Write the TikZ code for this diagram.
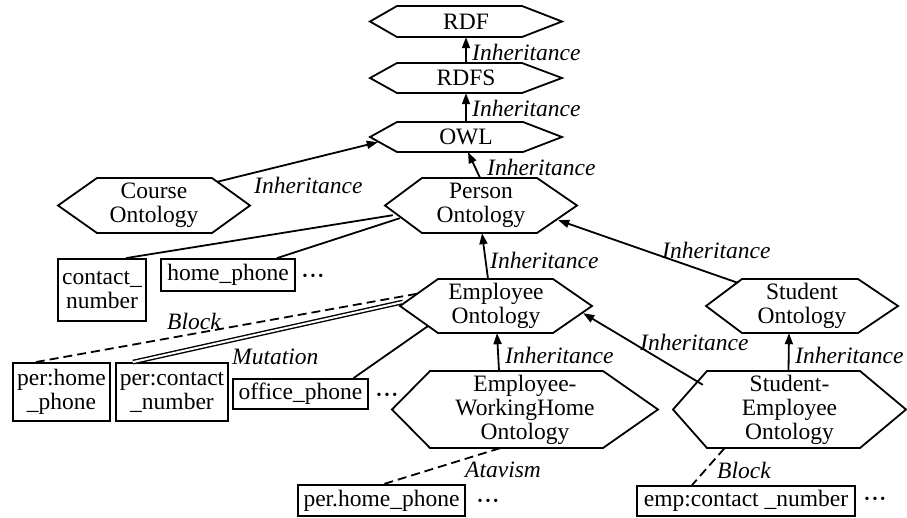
\documentclass[tikz,border=0pt]{standalone}
\usepackage{fontspec}
\setmainfont{Liberation Serif}
\usetikzlibrary{arrows.meta,calc}
\tikzset{
  hexline/.style={line width=1.8pt, line join=miter},
  hextext/.style={inner sep=0pt, align=center, font=\fontsize{23.5}{24}\selectfont},
  boxnode/.style={draw, line width=1.8pt, inner sep=0pt, align=center, font=\fontsize{23.5}{24}\selectfont},
  conn/.style={line width=1.8pt},
  inh/.style={conn, -{Triangle[length=11pt,width=8pt]}},
  blk/.style={conn, dash pattern=on 9pt off 5pt},
  mut/.style={double, double distance=2pt, line width=1.4pt},
  lab/.style={font=\fontsize{23.5}{24}\selectfont\itshape, inner sep=0pt},
  dotsnode/.style={font=\fontsize{14}{14}\selectfont, inner sep=0pt}
}
% name, left tip, left corner, right corner, right tip, top, bottom, text
\newcommand{\hexnode}[8]{%
  \node[hextext, minimum width={#5-#2}, minimum height={#7-#6}] (#1) at ({(#2+#5)/2},{(#6+#7)/2}) {#8};
  \draw[hexline] (#2,{(#6+#7)/2}) -- (#3,#6) -- (#4,#6) -- (#5,{(#6+#7)/2}) -- (#4,#7) -- (#3,#7) -- cycle;
}
\newcommand{\threedots}{\textbullet\hspace{3pt}\textbullet\hspace{3pt}\textbullet}
\begin{document}
\begin{tikzpicture}[x=1pt,y=-1pt]
\useasboundingbox (0,0) rectangle (907,517);
% hexagons
\hexnode{rdf}{370}{397}{522}{562}{6}{37}{RDF}
\hexnode{rdfs}{370}{397}{522}{562}{63}{93}{RDFS}
\hexnode{owl}{370}{397}{523}{562}{122}{152}{OWL}
\hexnode{course}{58}{97}{212}{250}{178}{233}{Course\\Ontology}
\hexnode{person}{385}{422}{537}{577}{178}{233}{Person\\Ontology}
\hexnode{employee}{400}{438}{553}{592}{279}{333}{Employee\\Ontology}
\hexnode{student}{706}{742}{858}{898}{279}{333}{Student\\Ontology}
\hexnode{ewh}{392}{430}{603}{658}{371}{448}{Employee-\\WorkingHome\\Ontology}
\hexnode{se}{673}{707}{860}{906}{371}{448}{Student-\\Employee\\Ontology}
% boxes
\node[boxnode, minimum width=88, minimum height=62] (cn) at (102,290) {contact\_\\number};
\node[boxnode, minimum width=134, minimum height=32] (hp) at (228,275) {home\_phone};
\node[boxnode, minimum width=97, minimum height=58] (phn) at (61.5,392) {per:home\\\_phone};
\node[boxnode, minimum width=112, minimum height=58] (pcn) at (172,392) {per:contact\\\_number};
\node[boxnode, minimum width=135, minimum height=30] (op) at (300.5,394) {office\_phone};
\node[boxnode, minimum width=167, minimum height=31] (phh) at (381.5,500.5) {per.home\_phone};
\node[boxnode, minimum width=218, minimum height=30] (ecn) at (746,501) {emp:contact \_number};
% dots
\node[dotsnode] (d1) at (313,277) {\threedots};
\node[dotsnode] (d2) at (387,396) {\threedots};
\node[dotsnode] (d3) at (488,502) {\threedots};
\node[dotsnode] (d4) at (875,500) {\threedots};
% inheritance arrows
\draw[inh] (rdfs.north) -- (rdf.south);
\draw[inh] (owl.north) -- (rdfs.south);
\draw[inh] ($(person.north)+(-1,0)$) -- ($(owl.south)+(2,0)$);
\draw[inh] ($(course.north east)+(-33,4)$) -- ($(owl.south west)+(8,-10)$);
\draw[inh] ($(employee.north)+(-8,0)$) -- ($(person.south)+(1,0)$);
\draw[inh] ($(student.north west)+(32,4)$) -- ($(person.south east)+(-19,-13)$);
\draw[inh] ($(ewh.north)+(-26,0)$) -- ($(employee.south)+(1,0)$);
\draw[inh] ($(se.north west)+(30,14)$) -- ($(employee.south east)+(-9,-20)$);
\draw[inh] ($(se.north)+(-1,0)$) -- ($(student.south)+(-13,0)$);
% property lines
\draw[conn] ($(person.south west)+(8,-18)$) -- ($(cn.north)+(24,0)$);
\draw[conn] ($(person.south west)+(15,-15)$) -- ($(hp.north)+(49,0)$);
\draw[blk] ($(employee.north west)+(17,15)$) -- ($(phn.north)+(-26,0)$);
\draw[mut] ($(employee.west)+(3,-4)$) -- ($(pcn.north)+(-39,0)$);
\draw[conn] ($(employee.south west)+(28,-7)$) -- ($(op.north)+(53,0)$);
\draw[blk] ($(ewh.south)+(-25,0)$) -- ($(phh.north)+(2,0)$);
\draw[blk] ($(se.south)+(-65,0)$) -- ($(ecn.north)+(-54,0)$);
% labels
\node[lab, anchor=west] (l1) at (472,52) {Inheritance};
\node[lab, anchor=west] (l2) at (472,108) {Inheritance};
\node[lab, anchor=west] (l3) at (487,167) {Inheritance};
\node[lab, anchor=west] (l4) at (254,185) {Inheritance};
\node[lab, anchor=west] (l5) at (490,260) {Inheritance};
\node[lab, anchor=west] (l6) at (662,250) {Inheritance};
\node[lab, anchor=west] (l7) at (505,355) {Inheritance};
\node[lab, anchor=west] (l8) at (640,342) {Inheritance};
\node[lab, anchor=west] (l9) at (795,355) {Inheritance};
\node[lab, anchor=west] (l10) at (167,321) {Block};
\node[lab, anchor=west] (l11) at (232,357) {Mutation};
\node[lab, anchor=west] (l12) at (465,470) {Atavism};
\node[lab, anchor=west] (l13) at (717,470) {Block};
\end{tikzpicture}
\end{document}
